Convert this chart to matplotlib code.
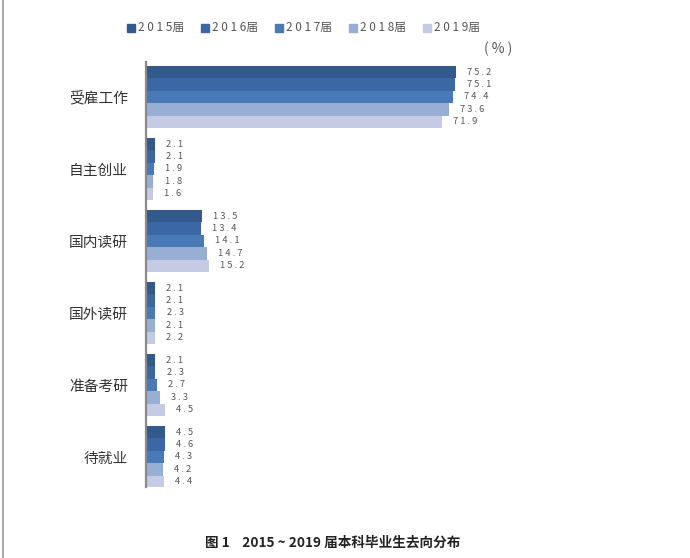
import matplotlib
matplotlib.use("Agg")
import matplotlib.pyplot as plt
from matplotlib.lines import Line2D
from matplotlib.patches import Rectangle

plt.rcParams['font.family'] = ['Noto Sans CJK SC', 'DejaVu Sans']

categories = ['受雇工作', '自主创业', '国内读研', '国外读研', '准备考研', '待就业']
years = ['2015届', '2016届', '2017届', '2018届', '2019届']
values = {
    '2015届': [75.2, 2.1, 13.5, 2.1, 2.1, 4.5],
    '2016届': [75.1, 2.1, 13.4, 2.1, 2.3, 4.6],
    '2017届': [74.4, 1.9, 14.1, 2.3, 2.7, 4.3],
    '2018届': [73.6, 1.8, 14.7, 2.1, 3.3, 4.2],
    '2019届': [71.9, 1.6, 15.2, 2.2, 4.5, 4.4],
}
colors = ['#335a8c', '#3b68a5', '#4a79b8', '#98aed4', '#c5cbe4']
caption = '图 1    2015 ~ 2019 届本科毕业生去向分布'


def spaced(s):
    return ' '.join(s)


fig = plt.figure(figsize=(6.9, 5.58), dpi=100)
ax = fig.add_axes([146 / 690, 71 / 558, 412 / 690, 425 / 558])

bar_h = 0.172
for j, year in enumerate(years):
    ys = [i + (j - 2) * bar_h for i in range(len(categories))]
    ax.barh(ys, values[year], height=bar_h, color=colors[j], edgecolor='none')
    for y, v in zip(ys, values[year]):
        ax.annotate(spaced(f'{v:.1f}'), (v, y), xytext=(8, 0), textcoords='offset points',
                    va='center', ha='left', fontsize=6.7, color='#555555')

ax.set_xlim(0, 100)
ax.set_ylim(5.417, -0.486)
ax.set_yticks(range(len(categories)))
ax.set_yticklabels(categories, fontsize=10.6, color='#333333')
ax.tick_params(axis='y', length=0, pad=13)
ax.set_xticks([])
for side in ['top', 'right', 'bottom']:
    ax.spines[side].set_visible(False)
ax.spines['left'].set_color('#8a8a8a')
ax.spines['left'].set_linewidth(1.6)

# legend row
leg_x = [127, 201, 275, 349, 423]
for x, year, c in zip(leg_x, years, colors):
    fig.patches.append(Rectangle((x / 690, (558 - 32) / 558), 8 / 690, 8 / 558,
                                 transform=fig.transFigure, color=c))
    fig.text((x + 11) / 690, (558 - 28) / 558, spaced(year[:4]) + year[4:],
             fontsize=8.5, color='#555555', va='center', ha='left')

fig.text(484 / 690, (558 - 49) / 558, '( % )', fontsize=10, color='#555555',
         va='center', ha='left')

fig.text(333 / 690, (558 - 543) / 558, caption, fontsize=9.8, fontweight='bold',
         color='#222222', ha='center', va='center')

# thin frame line on the left edge
fig.add_artist(Line2D([2.5 / 690, 2.5 / 690], [0, 1], transform=fig.transFigure,
                      color='#9a9a9a', lw=1.2))

fig.savefig('out.png', dpi=100)
